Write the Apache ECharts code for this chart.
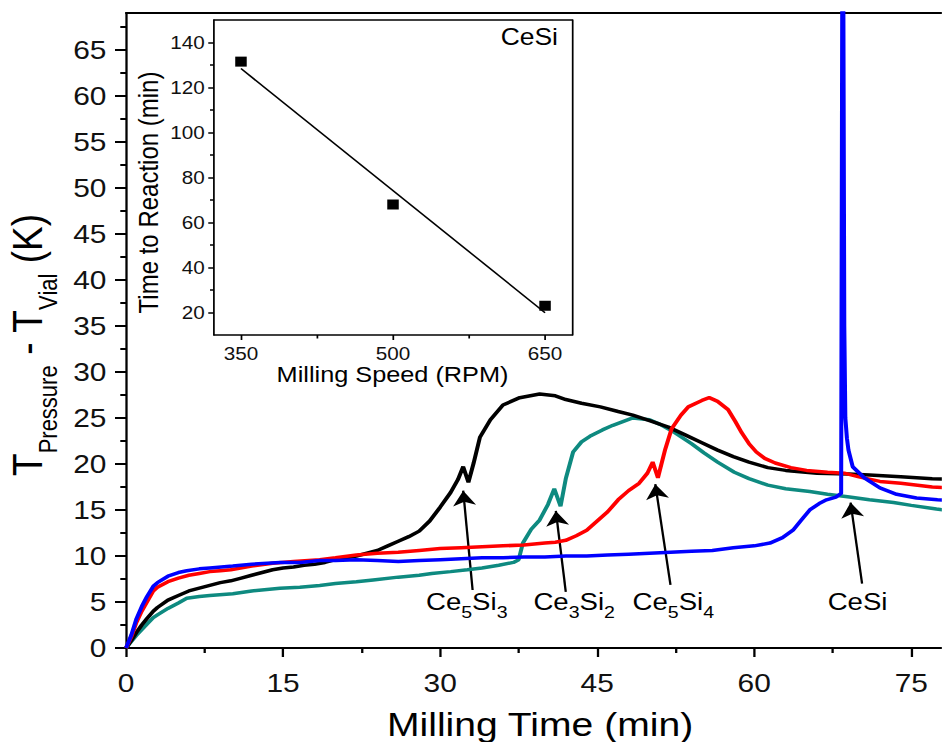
<!DOCTYPE html>
<html>
<head>
<meta charset="utf-8">
<script src="https://cdn.jsdelivr.net/npm/echarts@6/dist/echarts.min.js"></script>
<style>
  html, body { margin: 0; padding: 0; width: 942px; height: 742px; overflow: hidden; background: #fff; }
  /* the figure is drawn 1.15x wider horizontally, as in the printed plot */
  #chart { width: 819.13px; height: 742px; transform: scaleX(1.15); transform-origin: 0 0; }
</style>
</head>
<body>
<div id="chart"></div>
<script>
// ---- Main plot: temperature difference vs. milling time, [min, K] ----
const ce5si3 = [[0,0],[0.5,0.8],[1,1.7],[1.5,2.5],[2,3.2],[2.6,4.0],[3,4.4],[4,5.2],[5,5.7],[6,6.2],[7,6.5],[8,6.8],[9,7.1],[10,7.3],[11,7.6],[12,7.9],[13,8.2],[14,8.5],[15,8.7],[16,8.8],[17,9.0],[18,9.1],[19,9.3],[20,9.6],[21,9.8],[22,10.0],[23,10.3],[24,10.6],[25,11.1],[26,11.6],[27,12.1],[28,12.7],[29,13.8],[30,15.3],[31,16.9],[31.7,18.3],[32.2,19.7],[32.7,18.0],[33.2,20.1],[33.8,22.9],[34.8,24.8],[36,26.4],[37.6,27.2],[39.5,27.6],[41,27.4],[42,27.0],[43.5,26.6],[45.3,26.2],[47,25.7],[48.4,25.3],[50,24.7],[51.8,24.0],[53.5,23.1],[55,22.3],[56.5,21.5],[58,20.8],[59.5,20.2],[61.3,19.6],[63,19.3],[66,19.0],[69,18.9],[71,18.8],[74,18.6],[77,18.4],[79,18.3]];
const ce3si2 = [[0,0],[0.5,0.7],[1,1.4],[1.5,2.0],[2,2.6],[2.6,3.3],[3,3.6],[4,4.3],[5,4.9],[5.8,5.4],[7,5.6],[8,5.7],[10.2,5.9],[12,6.2],[14.7,6.5],[16.6,6.6],[18.5,6.8],[20,7.0],[22,7.2],[23.6,7.4],[26,7.7],[28,7.9],[29.2,8.1],[31,8.3],[32.6,8.5],[34,8.7],[35.6,9.0],[37,9.3],[37.5,9.6],[37.9,11.4],[38.7,12.9],[39.5,13.9],[40.3,15.6],[40.9,17.3],[41.5,15.4],[42.0,18.4],[42.7,21.3],[43.5,22.4],[44.3,23.0],[45.5,23.7],[46.5,24.2],[48.4,25.0],[50,24.8],[51,24.3],[52.4,23.4],[54,22.2],[55.2,21.2],[56.5,20.2],[58.1,19.1],[59.5,18.4],[61.3,17.7],[63,17.3],[65.3,17.0],[67,16.7],[69.1,16.4],[71,16.1],[73.3,15.8],[75,15.5],[77.4,15.1],[79,14.9]];
const ce5si4 = [[0,0],[0.5,1.2],[1,2.8],[1.5,4.0],[2,5.0],[2.6,6.2],[3,6.6],[4,7.2],[5,7.6],[6,7.9],[7,8.1],[8,8.3],[9,8.4],[10,8.5],[12,8.9],[14,9.2],[16,9.4],[18.5,9.6],[20,9.8],[22,10.1],[24,10.3],[26,10.4],[28,10.6],[30,10.8],[32,10.9],[34,11.0],[36,11.1],[38,11.2],[40,11.4],[41,11.5],[42,11.7],[43,12.2],[44,12.8],[45,13.8],[46,14.8],[47,16.1],[48,17.1],[49,17.9],[49.8,19.0],[50.3,20.2],[50.8,18.5],[51.5,21.6],[52.1,23.8],[53,25.3],[53.7,26.2],[55,26.9],[55.7,27.2],[56.5,26.8],[57.5,25.9],[58.2,24.6],[58.8,23.4],[59.5,22.2],[60.2,21.3],[61,20.6],[62,20.1],[63.5,19.6],[65,19.3],[67,19.1],[68.6,19.0],[70,18.6],[72,18.1],[74,17.9],[77,17.5],[79,17.4]];
const cesi = [[0,0],[0.5,1.4],[1,3.2],[1.5,4.5],[2,5.6],[2.6,6.7],[3,7.1],[4,7.8],[5,8.2],[5.8,8.4],[7,8.6],[8,8.7],[10.2,8.9],[12,9.1],[14.7,9.3],[16.6,9.3],[18.5,9.5],[20,9.5],[22,9.6],[24,9.5],[26,9.4],[28,9.5],[30,9.6],[32,9.7],[34,9.8],[36,9.8],[38,9.9],[40,9.9],[42,10.0],[44,10.0],[46,10.1],[48,10.2],[50,10.3],[52,10.4],[54,10.5],[56,10.6],[58,10.9],[60,11.1],[61.5,11.4],[62.7,12.0],[63.7,12.8],[64.5,13.9],[65.3,15.0],[66.2,15.7],[66.9,16.1],[67.8,16.4],[68.3,16.8],[68.45,95],[68.6,35],[68.7,25],[68.85,22.8],[69.0,21.5],[69.4,19.7],[70.5,18.5],[72,17.4],[73.6,16.7],[75.5,16.3],[77.5,16.1],[79,16.0]];

const mainXTicks = [0, 15, 30, 45, 60, 75];
const mainYTicks = [0,5,10,15,20,25,30,35,40,45,50,55,60,65];

// reaction markers: label text, label position, arrow tail, arrow tip
const markerLabels = ['Ce{s|5}Si{s|3}', 'Ce{s|3}Si{s|2}', 'Ce{s|5}Si{s|4}', 'CeSi'];
const markerLabelPos = [[32.54,5.05],[42.8,5.05],[52.27,5.05],[69.87,5.05]];
const markerTail = [[33.1,6.3],[42.0,6.1],[52.0,6.85],[70.3,7.0]];
const markerTip = [[32.2,17.1],[41.05,14.9],[50.55,17.8],[69.2,15.8]];

// ---- Inset: time to reaction vs. milling speed ----
const speedRPM = [350, 500, 650];
const reactionTime = [131.5, 68, 23];
const insetXTicks = [350, 500, 650];
const insetXMinor = [425, 575];
const insetYTicks = [20, 40, 60, 80, 100, 120, 140];
const insetYMinor = [30, 50, 70, 90, 110, 130];

// least-squares line through the inset points
function linearFit(xs, ys) {
  const n = xs.length;
  const mx = xs.reduce((a, b) => a + b, 0) / n;
  const my = ys.reduce((a, b) => a + b, 0) / n;
  let sxy = 0, sxx = 0;
  for (let i = 0; i < n; i++) { sxy += (xs[i] - mx) * (ys[i] - my); sxx += (xs[i] - mx) ** 2; }
  const k = sxy / sxx;
  return [xs[0], xs[n - 1]].map(x => [x, my + k * (x - mx)]);
}

const FONT = "'Liberation Sans', Arial, Helvetica, sans-serif";
const chart = echarts.init(document.getElementById('chart'), null, { renderer: 'svg' });

const noSplit = { show: false };
const frameLine = { show: true, lineStyle: { color: '#000', width: 2 } };
const insetLine = { show: true, lineStyle: { color: '#000', width: 1.5 } };

const option = {
  backgroundColor: '#fff',
  animation: false,
  grid: [
    { left: 109.6, top: 13, width: 819.4, height: 635, outerBoundsMode: 'none', containLabel: false },
    { left: 186.1, top: 20, width: 311.3, height: 315, outerBoundsMode: 'none', containLabel: false,
      show: true, backgroundColor: '#fff', borderWidth: 0 }
  ],
  xAxis: [
    { type: 'value', gridIndex: 0, position: 'bottom', min: 0, max: 90, interval: 15,
      axisLine: frameLine, splitLine: noSplit,
      axisTick: { show: true, inside: false, length: 9, lineStyle: { color: '#000', width: 2 } },
      minorTick: { show: true, splitNumber: 2, length: 5, lineStyle: { color: '#000', width: 2 } },
      axisLabel: { fontSize: 26, fontFamily: FONT, color: '#111', margin: 22, customValues: mainXTicks } },
    { type: 'value', gridIndex: 0, position: 'top', min: 0, max: 90,
      axisLine: frameLine, splitLine: noSplit, axisTick: { show: false }, axisLabel: { show: false } },
    { type: 'value', gridIndex: 1, position: 'bottom', min: 323.4, max: 676.6,
      axisLine: insetLine, splitLine: noSplit,
      axisTick: { show: true, length: 5, customValues: insetXTicks, lineStyle: { color: '#000', width: 1.5 } },
      axisLabel: { fontSize: 18, fontFamily: FONT, color: '#111', margin: 9, customValues: insetXTicks } },
    { type: 'value', gridIndex: 1, position: 'top', min: 323.4, max: 676.6,
      axisLine: insetLine, splitLine: noSplit, axisTick: { show: false }, axisLabel: { show: false } },
    { type: 'value', gridIndex: 1, position: 'bottom', min: 323.4, max: 676.6,
      axisLine: { show: false }, splitLine: noSplit, axisLabel: { show: false },
      axisTick: { show: true, length: 3.5, customValues: insetXMinor, lineStyle: { color: '#000', width: 1.5 } } }
  ],
  yAxis: [
    { type: 'value', gridIndex: 0, position: 'left', min: 0, max: 69, interval: 5,
      axisLine: frameLine, splitLine: noSplit,
      axisTick: { show: true, length: 9.6, customValues: mainYTicks, lineStyle: { color: '#000', width: 2 } },
      minorTick: { show: true, splitNumber: 2, length: 5, lineStyle: { color: '#000', width: 2 } },
      axisLabel: { fontSize: 26, fontFamily: FONT, color: '#111', margin: 17, customValues: mainYTicks } },
    { type: 'value', gridIndex: 1, position: 'left', min: 10, max: 150,
      axisLine: insetLine, splitLine: noSplit,
      axisTick: { show: true, length: 5, customValues: insetYTicks, lineStyle: { color: '#000', width: 1.5 } },
      axisLabel: { fontSize: 18, fontFamily: FONT, color: '#111', margin: 8, customValues: insetYTicks } },
    { type: 'value', gridIndex: 1, position: 'right', min: 10, max: 150,
      axisLine: insetLine, splitLine: noSplit, axisTick: { show: false }, axisLabel: { show: false } },
    { type: 'value', gridIndex: 1, position: 'left', min: 10, max: 150,
      axisLine: { show: false }, splitLine: noSplit, axisLabel: { show: false },
      axisTick: { show: true, length: 3.5, customValues: insetYMinor, lineStyle: { color: '#000', width: 1.5 } } }
  ],
  series: [
    { name: 'Ce3Si2', type: 'line', xAxisIndex: 0, yAxisIndex: 0, data: ce3si2, showSymbol: false,
      lineStyle: { color: '#0e8a80', width: 3.5 } },
    { name: 'Ce5Si3', type: 'line', xAxisIndex: 0, yAxisIndex: 0, data: ce5si3, showSymbol: false,
      lineStyle: { color: '#000000', width: 3.5 } },
    { name: 'Ce5Si4', type: 'line', xAxisIndex: 0, yAxisIndex: 0, data: ce5si4, showSymbol: false,
      lineStyle: { color: '#ff0000', width: 3.5 } },
    { name: 'CeSi', type: 'line', xAxisIndex: 0, yAxisIndex: 0, data: cesi, showSymbol: false,
      lineStyle: { color: '#0000ff', width: 3.5 } },
    { name: 'arrows', type: 'lines', coordinateSystem: 'cartesian2d', xAxisIndex: 0, yAxisIndex: 0,
      symbol: ['none', 'arrow'], symbolSize: 15,
      lineStyle: { color: '#000', width: 2, opacity: 1 },
      data: markerTail.map((t, i) => ({ coords: [t, markerTip[i]] })) },
    { name: 'labels', type: 'scatter', xAxisIndex: 0, yAxisIndex: 0, symbolSize: 1,
      itemStyle: { color: 'rgba(0,0,0,0)', opacity: 1 },
      data: markerLabelPos.map((p, i) => [p[0], p[1], markerLabels[i]]),
      label: { show: true, position: 'inside', color: '#000', opacity: 1, textBorderWidth: 0,
        formatter: p => '{m|' + p.data[2].replace(/\{s\|(\d)\}/g, '}{s|$1}{m|') + '}',
        rich: {
          m: { fontSize: 24, lineHeight: 38, fontFamily: FONT, color: '#000' },
          s: { fontSize: 17, lineHeight: 17, fontFamily: FONT, color: '#000', verticalAlign: 'bottom' }
        } } },
    { name: 'fit', type: 'line', xAxisIndex: 2, yAxisIndex: 1, data: linearFit(speedRPM, reactionTime),
      showSymbol: false, lineStyle: { color: '#000', width: 1.5 } },
    { name: 'time', type: 'scatter', xAxisIndex: 2, yAxisIndex: 1, symbol: 'rect', symbolSize: 10,
      itemStyle: { color: '#000', opacity: 1 }, data: speedRPM.map((s, i) => [s, reactionTime[i]]) }
  ],
  graphic: [
    { type: 'text', x: 23.5, y: 345, rotation: Math.PI / 2,
      style: { text: '{m|T}{s|Pressure}{m| - T}{s|Vial}{m| (K)}', align: 'center', verticalAlign: 'middle',
        rich: {
          m: { fontSize: 37, lineHeight: 60, fontFamily: FONT, fill: '#000' },
          s: { fontSize: 22, lineHeight: 22, fontFamily: FONT, fill: '#000', verticalAlign: 'bottom' }
        } } },
    { type: 'text', x: 469.6, y: 724,
      style: { text: 'Milling Time (min)', fontSize: 34, fontFamily: FONT, fill: '#000', align: 'center', verticalAlign: 'middle' } },
    { type: 'text', x: 128.7, y: 192.5, rotation: Math.PI / 2,
      style: { text: 'Time to Reaction (min)', fontSize: 24, fontFamily: FONT, fill: '#000', align: 'center', verticalAlign: 'middle' } },
    { type: 'text', x: 341.3, y: 375,
      style: { text: 'Milling Speed (RPM)', fontSize: 22, fontFamily: FONT, fill: '#000', align: 'center', verticalAlign: 'middle' } },
    { type: 'text', x: 485.2, y: 37.5,
      style: { text: 'CeSi', fontSize: 23, fontFamily: FONT, fill: '#000', align: 'right', verticalAlign: 'middle' } }
  ]
};

chart.setOption(option);
</script>
</body>
</html>
